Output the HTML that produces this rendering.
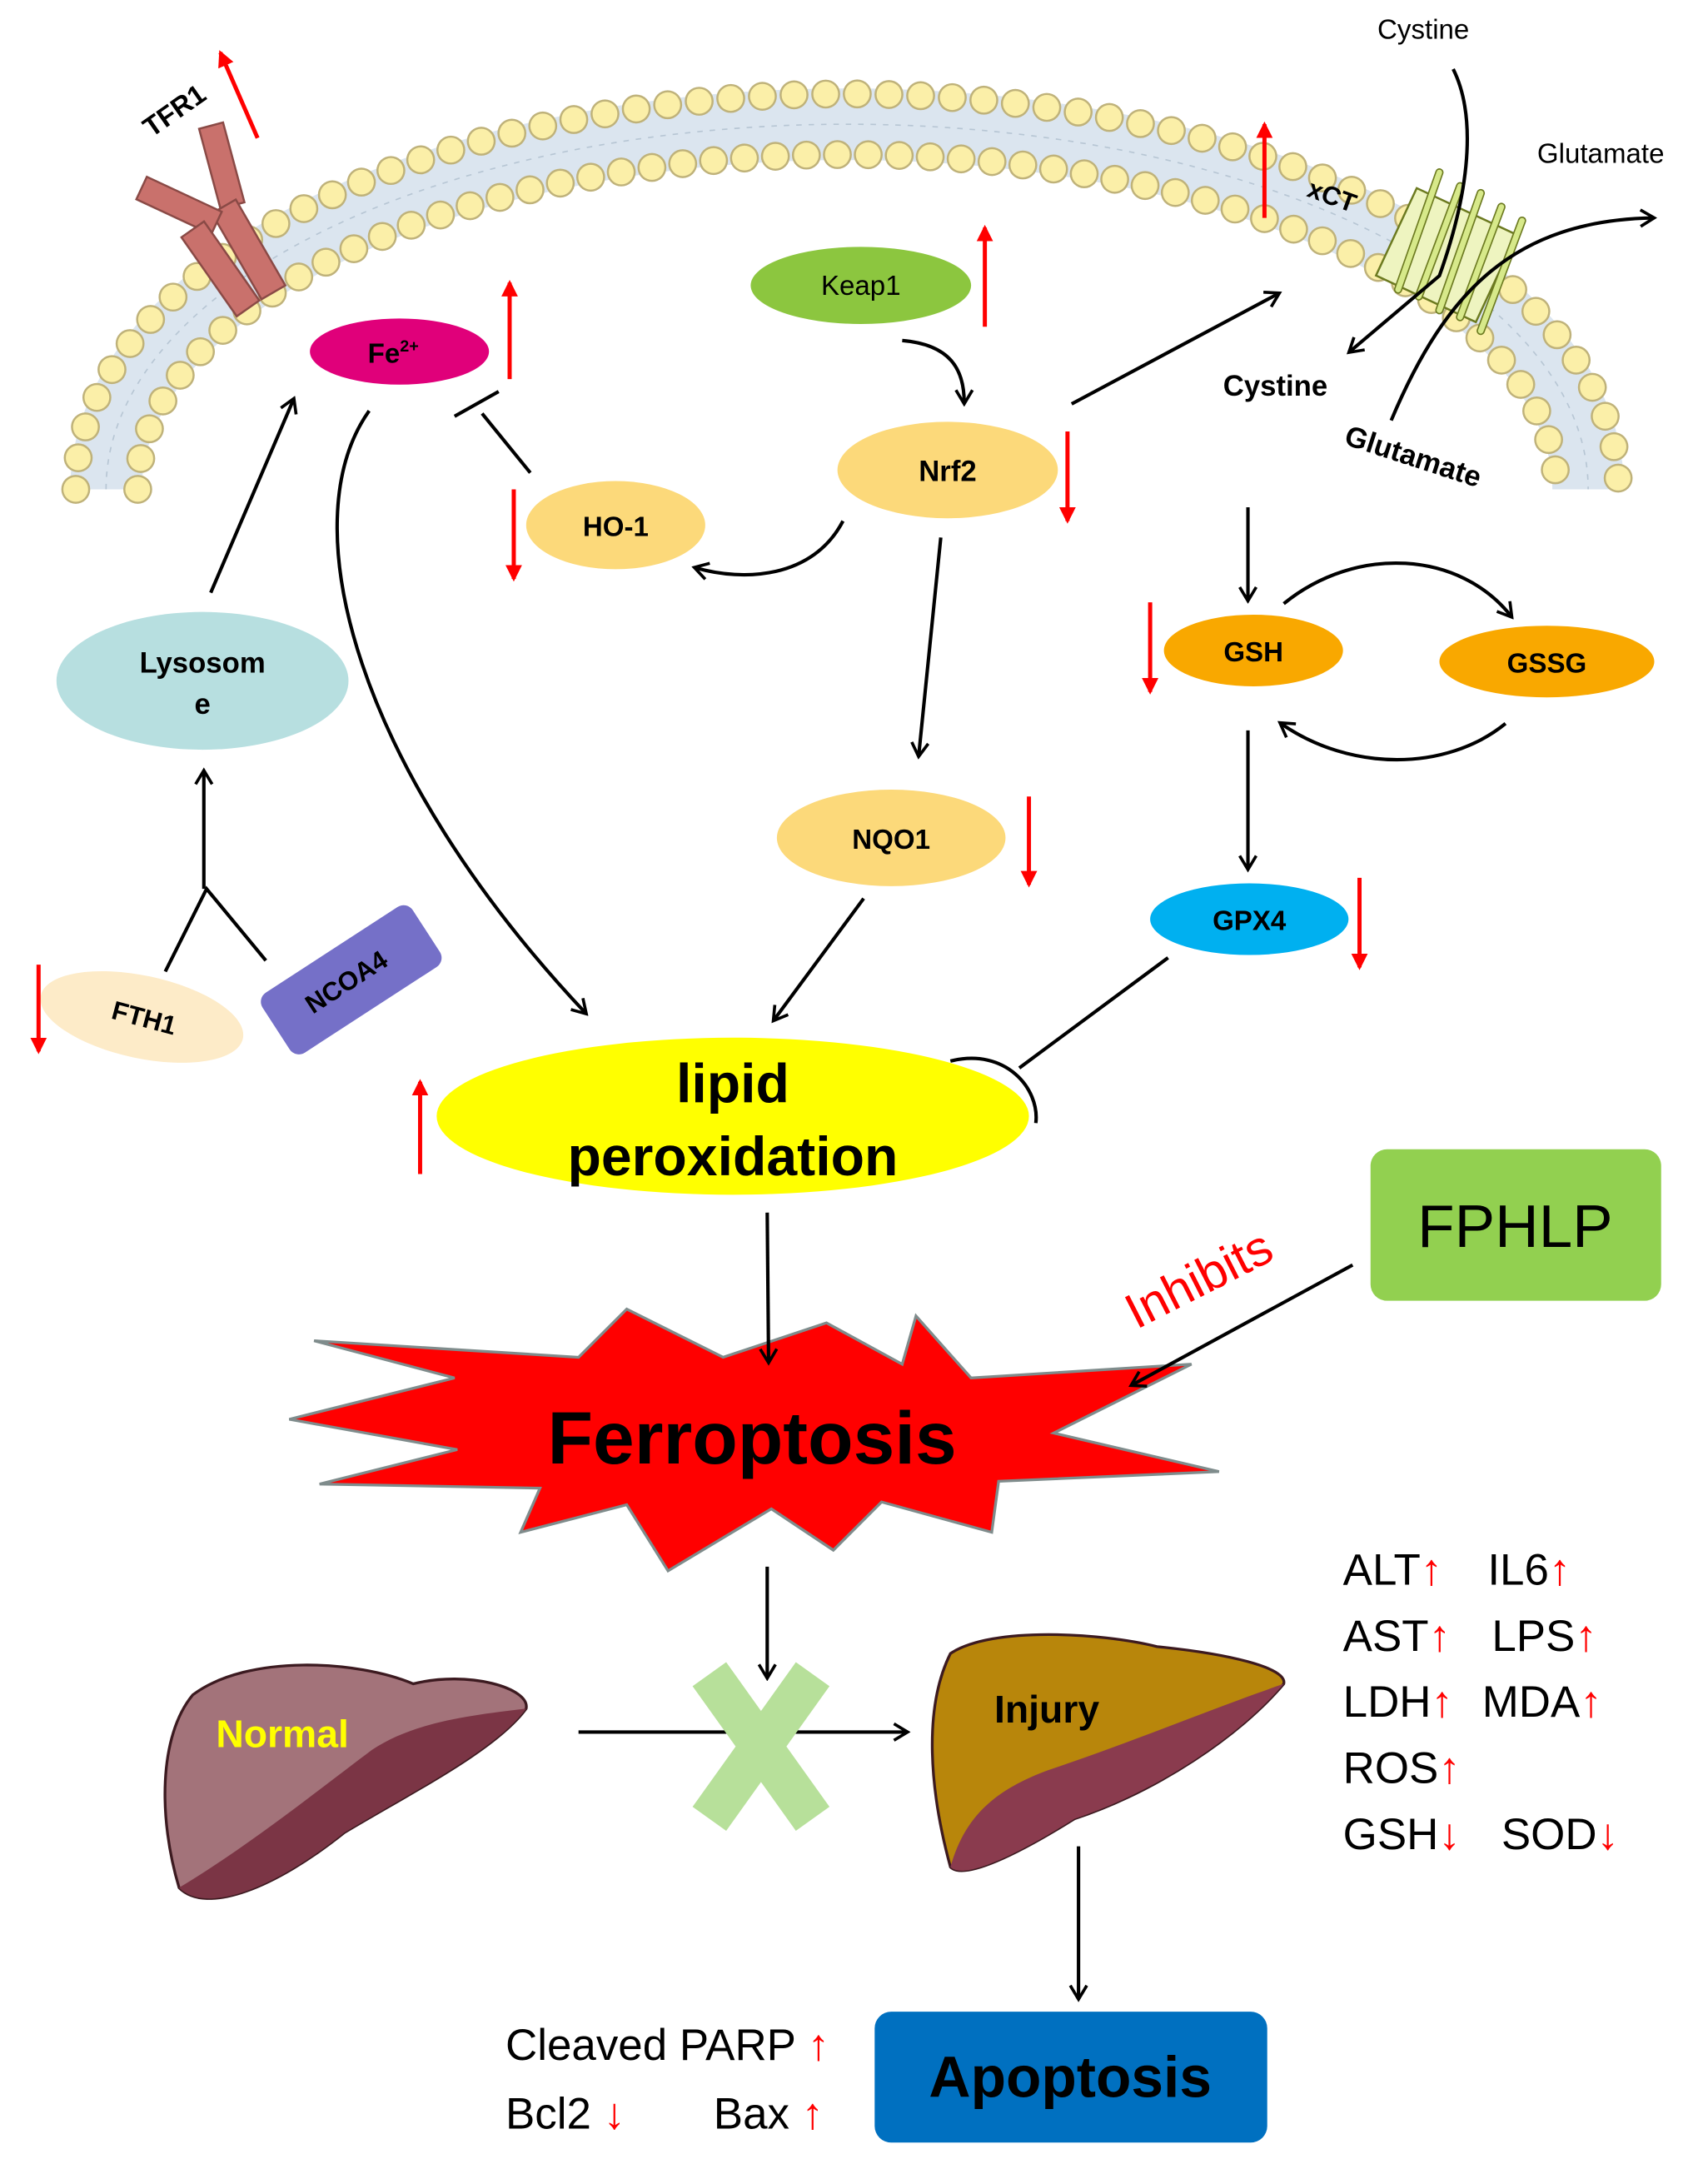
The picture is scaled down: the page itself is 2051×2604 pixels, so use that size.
<!DOCTYPE html>
<html><head><meta charset="utf-8"><style>html,body{margin:0;padding:0;background:#fff}svg{display:block}</style></head>
<body>
<svg width="2051" height="2604" viewBox="0 0 1240 1574" xmlns="http://www.w3.org/2000/svg" font-family="Liberation Sans, Arial, sans-serif">
<defs>
<marker id="a" markerWidth="14" markerHeight="14" refX="11" refY="7" orient="auto" markerUnits="userSpaceOnUse"><path d="M2,1 L12,7 L2,13" fill="none" stroke="#000" stroke-width="2.2"/></marker>
<marker id="r" markerWidth="14" markerHeight="16" refX="10" refY="8" orient="auto" markerUnits="userSpaceOnUse"><path d="M0,2 L12,8 L0,14 Z" fill="#f00"/></marker>
</defs>
<rect width="1240" height="1574" fill="#fff"/>
<!-- membrane -->
<path d="M77,355 A538,265 0 0 1 1153,355" fill="none" stroke="#dbe5ef" stroke-width="52"/>
<path d="M77,355 A538,265 0 0 1 1153,355" fill="none" stroke="#b7c6d4" stroke-width="1" stroke-dasharray="4 5"/>
<path d="M55,355 A560,287 0 0 1 1175,355" fill="none" stroke="#bfb27a" stroke-width="21" stroke-linecap="round" stroke-dasharray="0 23"/>
<path d="M55,355 A560,287 0 0 1 1175,355" fill="none" stroke="#fbefa8" stroke-width="18" stroke-linecap="round" stroke-dasharray="0 23"/>
<path d="M100,355 A515,243 0 0 1 1130,355" fill="none" stroke="#bfb27a" stroke-width="21" stroke-linecap="round" stroke-dasharray="0 22.5"/>
<path d="M100,355 A515,243 0 0 1 1130,355" fill="none" stroke="#fbefa8" stroke-width="18" stroke-linecap="round" stroke-dasharray="0 22.5"/>
<!-- TFR1 -->
<g fill="#c9716c" stroke="#8a4a46" stroke-width="1.5">
<rect x="152" y="90" width="18" height="60" transform="rotate(-15 161 120)"/>
<rect x="170" y="145" width="20" height="72" transform="rotate(-30 180 180)"/>
<rect x="100" y="140" width="60" height="18" transform="rotate(25 130 149)"/>
<rect x="150" y="160" width="20" height="70" transform="rotate(-35 160 195)"/>
</g>
<text x="110" y="100" font-size="20" font-weight="bold" transform="rotate(-35 110 100)">TFR1</text>
<line x1="187" y1="100" x2="160" y2="38" stroke="#f00" stroke-width="3" marker-end="url(#r)"/>
<!-- xCT -->
<g fill="#d7e98a" stroke="#6c7a20" stroke-width="1.5">
<rect x="1010" y="150" width="80" height="70" transform="rotate(25 1050 185)" fill="#eef4c0"/>
</g>
<g stroke="#6c7a20" stroke-width="6" stroke-linecap="round"><line x1="1015" y1="210" x2="1045" y2="125"/><line x1="1030" y1="215" x2="1060" y2="135"/><line x1="1045" y1="225" x2="1075" y2="140"/><line x1="1060" y1="230" x2="1090" y2="150"/><line x1="1075" y1="240" x2="1105" y2="160"/></g>
<g stroke="#d7e98a" stroke-width="4" stroke-linecap="round"><line x1="1015" y1="210" x2="1045" y2="125"/><line x1="1030" y1="215" x2="1060" y2="135"/><line x1="1045" y1="225" x2="1075" y2="140"/><line x1="1060" y1="230" x2="1090" y2="150"/><line x1="1075" y1="240" x2="1105" y2="160"/></g>
<text x="948" y="142" font-size="19" font-weight="bold" transform="rotate(20 948 142)">xCT</text>
<text x="1000" y="28" font-size="20">Cystine</text>
<text x="1116" y="118" font-size="20">Glutamate</text>
<path d="M1055,50 C1070,80 1070,130 1045,200 L980,255" fill="none" stroke="#000" stroke-width="2.5" marker-end="url(#a)"/>
<path d="M1010,305 C1050,210 1100,160 1200,158" fill="none" stroke="#000" stroke-width="2.5" marker-end="url(#a)"/>
<text x="888" y="287" font-size="21" font-weight="bold">Cystine</text>
<text x="975" y="322" font-size="21" font-weight="bold" transform="rotate(18 975 322)">Glutamate</text>
<line x1="918" y1="158" x2="918" y2="90" stroke="#f00" stroke-width="3" marker-end="url(#r)"/>
<!-- nodes -->
<ellipse cx="290" cy="255" rx="65" ry="24" fill="#e0007a"/>
<text x="267" y="263" font-size="20" font-weight="bold">Fe<tspan font-size="12" dy="-8">2+</tspan></text>
<line x1="370" y1="275" x2="370" y2="205" stroke="#f00" stroke-width="3" marker-end="url(#r)"/>
<ellipse cx="625" cy="207" rx="80" ry="28" fill="#8cc63f"/>
<text x="625" y="214" font-size="20" text-anchor="middle">Keap1</text>
<line x1="715" y1="237" x2="715" y2="165" stroke="#f00" stroke-width="3" marker-end="url(#r)"/>
<ellipse cx="688" cy="341" rx="80" ry="35" fill="#fcd97a"/>
<text x="688" y="349" font-size="21" font-weight="bold" text-anchor="middle">Nrf2</text>
<line x1="775" y1="313" x2="775" y2="378" stroke="#f00" stroke-width="3" marker-end="url(#r)"/>
<ellipse cx="447" cy="381" rx="65" ry="32" fill="#fcd97a"/>
<text x="447" y="389" font-size="20" font-weight="bold" text-anchor="middle">HO-1</text>
<line x1="373" y1="355" x2="373" y2="420" stroke="#f00" stroke-width="3" marker-end="url(#r)"/>
<ellipse cx="147" cy="494" rx="106" ry="50" fill="#b7dfe0"/>
<text x="147" y="488" font-size="21" font-weight="bold" text-anchor="middle">Lysosom</text>
<text x="147" y="518" font-size="21" font-weight="bold" text-anchor="middle">e</text>
<ellipse cx="647" cy="608" rx="83" ry="35" fill="#fcd97a"/>
<text x="647" y="616" font-size="20" font-weight="bold" text-anchor="middle">NQO1</text>
<line x1="747" y1="578" x2="747" y2="642" stroke="#f00" stroke-width="3" marker-end="url(#r)"/>
<ellipse cx="910" cy="472" rx="65" ry="26" fill="#f9a800"/>
<text x="910" y="480" font-size="20" font-weight="bold" text-anchor="middle">GSH</text>
<line x1="835" y1="437" x2="835" y2="502" stroke="#f00" stroke-width="3" marker-end="url(#r)"/>
<ellipse cx="1123" cy="480" rx="78" ry="26" fill="#f9a800"/>
<text x="1123" y="488" font-size="20" font-weight="bold" text-anchor="middle">GSSG</text>
<ellipse cx="907" cy="667" rx="72" ry="26" fill="#00b0f0"/>
<text x="907" y="675" font-size="20" font-weight="bold" text-anchor="middle">GPX4</text>
<line x1="987" y1="637" x2="987" y2="702" stroke="#f00" stroke-width="3" marker-end="url(#r)"/>
<ellipse cx="103" cy="738" rx="75" ry="30" fill="#fdebc8" transform="rotate(12 103 738)"/>
<text x="103" y="745" font-size="19" font-weight="bold" text-anchor="middle" transform="rotate(15 103 745)">FTH1</text>
<line x1="28" y1="700" x2="28" y2="763" stroke="#f00" stroke-width="3" marker-end="url(#r)"/>
<rect x="190" y="685" width="130" height="52" rx="8" fill="#7570c8" transform="rotate(-33 255 711)"/>
<text x="255" y="718" font-size="19" font-weight="bold" text-anchor="middle" transform="rotate(-33 255 718)">NCOA4</text>
<ellipse cx="532" cy="810" rx="215" ry="57" fill="#ffff00"/>
<text x="532" y="800" font-size="40" font-weight="bold" text-anchor="middle">lipid</text>
<text x="532" y="853" font-size="40" font-weight="bold" text-anchor="middle">peroxidation</text>
<line x1="305" y1="852" x2="305" y2="785" stroke="#f00" stroke-width="3" marker-end="url(#r)"/>
<rect x="995" y="834" width="211" height="110" rx="12" fill="#92d050"/>
<text x="1100" y="905" font-size="44" text-anchor="middle">FPHLP</text>
<text x="825" y="965" font-size="36" fill="#f00" transform="rotate(-27 825 965)">Inhibits</text>
<!-- connectors -->
<line x1="153" y1="430" x2="213" y2="290" stroke="#000" stroke-width="2.5" marker-end="url(#a)"/>
<line x1="148" y1="645" x2="148" y2="560" stroke="#000" stroke-width="2.5" marker-end="url(#a)"/>
<polyline points="120,705 150,645 193,697" fill="none" stroke="#000" stroke-width="2.5"/>
<path d="M268,298 C210,380 260,560 425,735" fill="none" stroke="#000" stroke-width="2.5" marker-end="url(#a)"/>
<line x1="385" y1="343" x2="350" y2="300" stroke="#000" stroke-width="2.5"/>
<line x1="330" y1="302" x2="362" y2="284" stroke="#000" stroke-width="2.5"/>
<path d="M612,378 C590,420 540,422 505,412" fill="none" stroke="#000" stroke-width="2.5" marker-end="url(#a)"/>
<path d="M655,247 C690,250 700,268 700,292" fill="none" stroke="#000" stroke-width="2.5" marker-end="url(#a)"/>
<line x1="778" y1="293" x2="928" y2="213" stroke="#000" stroke-width="2.5" marker-end="url(#a)"/>
<line x1="683" y1="390" x2="667" y2="548" stroke="#000" stroke-width="2.5" marker-end="url(#a)"/>
<line x1="627" y1="652" x2="562" y2="740" stroke="#000" stroke-width="2.5" marker-end="url(#a)"/>
<line x1="906" y1="368" x2="906" y2="435" stroke="#000" stroke-width="2.5" marker-end="url(#a)"/>
<path d="M932,438 C985,395 1060,400 1097,447" fill="none" stroke="#000" stroke-width="2.5" marker-end="url(#a)"/>
<path d="M1093,525 C1050,560 980,560 930,525" fill="none" stroke="#000" stroke-width="2.5" marker-end="url(#a)"/>
<line x1="906" y1="530" x2="906" y2="630" stroke="#000" stroke-width="2.5" marker-end="url(#a)"/>
<line x1="848" y1="695" x2="740" y2="775" stroke="#000" stroke-width="2.5"/>
<path d="M690,770 C730,760 755,790 752,815" fill="none" stroke="#000" stroke-width="2.5"/>
<!-- starburst -->
<polygon points="210,1030 330,1000 228,973 420,985 455,950 525,985 600,960 655,990 665,955 705,1000 865,990 765,1040 885,1068 725,1075 720,1112 640,1090 605,1125 560,1095 485,1140 455,1092 378,1112 392,1080 232,1077 332,1052" fill="#ff0000" stroke="#7f8c8c" stroke-width="2"/>
<text x="546" y="1062" font-size="54" font-weight="bold" text-anchor="middle">Ferroptosis</text>
<line x1="557" y1="880" x2="558" y2="988" stroke="#000" stroke-width="2.5" marker-end="url(#a)"/>
<line x1="982" y1="918" x2="822" y2="1005" stroke="#000" stroke-width="2.5" marker-end="url(#a)"/>
<line x1="557" y1="1137" x2="557" y2="1217" stroke="#000" stroke-width="2.5" marker-end="url(#a)"/>
<!-- livers -->
<path d="M140,1230 C180,1200 260,1205 300,1222 C340,1212 385,1225 382,1240 C360,1270 300,1300 250,1330 C200,1370 150,1390 130,1370 C115,1320 115,1260 140,1230 Z" fill="#a3737a" stroke="#3c1a20" stroke-width="2"/>
<path d="M382,1240 C360,1270 300,1300 250,1330 C200,1370 150,1390 130,1370 C180,1340 230,1300 270,1270 C300,1250 340,1245 382,1240 Z" fill="#7b3545"/>
<text x="205" y="1268" font-size="28" font-weight="bold" fill="#ffff00" text-anchor="middle">Normal</text>
<line x1="420" y1="1257" x2="658" y2="1257" stroke="#000" stroke-width="2.5" marker-end="url(#a)"/>
<g stroke="#b7e09a" stroke-width="30" stroke-linecap="butt"><line x1="515" y1="1215" x2="590" y2="1320"/><line x1="590" y1="1215" x2="515" y2="1320"/></g>
<path d="M690,1200 C720,1180 800,1185 840,1195 C890,1200 935,1210 932,1222 C900,1260 840,1300 780,1320 C740,1345 700,1365 690,1355 C675,1300 670,1240 690,1200 Z" fill="#b8860b" stroke="#3c1a20" stroke-width="2"/>
<path d="M932,1222 C900,1260 840,1300 780,1320 C740,1345 700,1365 690,1355 C700,1320 720,1300 760,1285 C820,1265 880,1240 932,1222 Z" fill="#8a3b4e"/>
<text x="760" y="1250" font-size="28" font-weight="bold" text-anchor="middle">Injury</text>
<g font-size="32">
<text x="975" y="1150">ALT<tspan fill="#f00">↑</tspan></text><text x="1080" y="1150">IL6<tspan fill="#f00">↑</tspan></text>
<text x="975" y="1198">AST<tspan fill="#f00">↑</tspan></text><text x="1083" y="1198">LPS<tspan fill="#f00">↑</tspan></text>
<text x="975" y="1246">LDH<tspan fill="#f00">↑</tspan></text><text x="1076" y="1246">MDA<tspan fill="#f00">↑</tspan></text>
<text x="975" y="1294">ROS<tspan fill="#f00">↑</tspan></text>
<text x="975" y="1342">GSH<tspan fill="#f00">↓</tspan></text><text x="1090" y="1342">SOD<tspan fill="#f00">↓</tspan></text>
</g>
<line x1="783" y1="1340" x2="783" y2="1450" stroke="#000" stroke-width="2.5" marker-end="url(#a)"/>
<rect x="635" y="1460" width="285" height="95" rx="12" fill="#0070c0"/>
<text x="777" y="1522" font-size="42" font-weight="bold" text-anchor="middle">Apoptosis</text>
<g font-size="32">
<text x="367" y="1495">Cleaved PARP <tspan fill="#f00">↑</tspan></text>
<text x="367" y="1545">Bcl2 <tspan fill="#f00">↓</tspan></text>
<text x="518" y="1545">Bax <tspan fill="#f00">↑</tspan></text>
</g>
</svg>
</body></html>
